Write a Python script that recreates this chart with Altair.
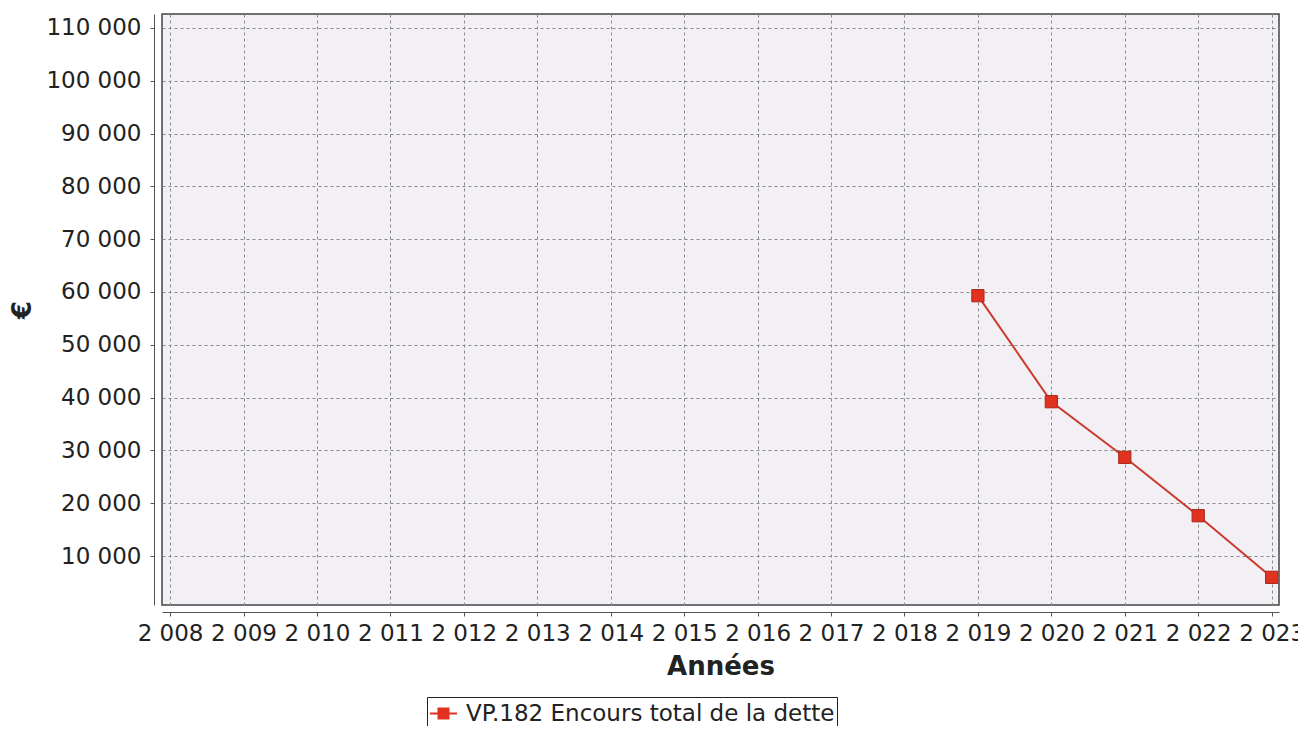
import altair as alt
import pandas as pd

years = [2019, 2020, 2021, 2022, 2023]
values = [59300, 39220, 28690, 17630, 5960]
series_name = "VP.182 Encours total de la dette"
x_ticks = list(range(2008, 2024))
y_ticks = list(range(10000, 110001, 10000))

df = pd.DataFrame({"annee": years, "valeur": values, "serie": [series_name] * len(years)})

FONT = "DejaVu Sans"
x_scale = alt.Scale(domain=[2007.89, 2023.1], nice=False, zero=False)
y_scale = alt.Scale(domain=[720, 112650], nice=False, zero=False)

fr_fmt = "replace(format(datum.value, ','), ',', ' ')"

x_enc = alt.X(
    "annee:Q", scale=x_scale, title="Années",
    axis=alt.Axis(values=x_ticks, labelExpr=fr_fmt, offset=7, tickSize=4,
                  labelPadding=6, labelFontSize=23, labelFont=FONT, labelColor="#222",
                  titleFont=FONT, titleFontSize=26, titleFontWeight="bold", titleColor="#222",
                  titlePadding=8, domainColor="#555", tickColor="#555", gridColor="#8a8a8a",
                  gridDash=[3, 3], labelOverlap=False, labelFlush=False),
)
y_enc = alt.Y(
    "valeur:Q", scale=y_scale, title="€",
    axis=alt.Axis(values=y_ticks, labelExpr=fr_fmt, offset=8, tickSize=4,
                  labelPadding=9, labelFontSize=23, labelFont=FONT, labelColor="#222",
                  titleFont=FONT, titleFontSize=26, titleFontWeight="bold", titleColor="#222",
                  titlePadding=10, domainColor="#555", tickColor="#555", gridColor="#8a8a8a",
                  gridDash=[3, 3], labelOverlap=False),
)

color_scale = alt.Scale(domain=[series_name], range=["#e0321f"])

line = alt.Chart(df).mark_line(color="#cc3a2e", strokeWidth=2).encode(x=x_enc, y=y_enc)
points = alt.Chart(df).mark_point(shape="square", filled=True, size=150, stroke="#a8281c",
                                  strokeWidth=1, opacity=1).encode(
    x=x_enc, y=y_enc,
    color=alt.Color("serie:N", scale=color_scale, title=None,
                    legend=alt.Legend(orient="none", legendX=265, legendY=683,
                                      symbolType="M-1,0H1M-0.37,-0.37H0.37V0.37H-0.37Z",
                                      symbolSize=729, symbolStrokeWidth=2,
                                      symbolFillColor="#e0321f", symbolStrokeColor="#e0321f",
                                      labelFont=FONT, labelFontSize=23, labelColor="#222",
                                      labelLimit=600,
                                      strokeColor="#222", padding=2, labelOffset=8,
                                      fillColor="white")),
)

chart = alt.layer(line, points).properties(
    width=1117, height=591,
    autosize=alt.AutoSizeParams(type="none"),
    padding={"left": 154, "top": 6, "right": 19, "bottom": 121},
    background="white",
).configure_view(fill="#f2f0f4", stroke="#444", strokeWidth=1.5)

chart.save("out.html", embed_options={"renderer": "svg", "actions": False})
